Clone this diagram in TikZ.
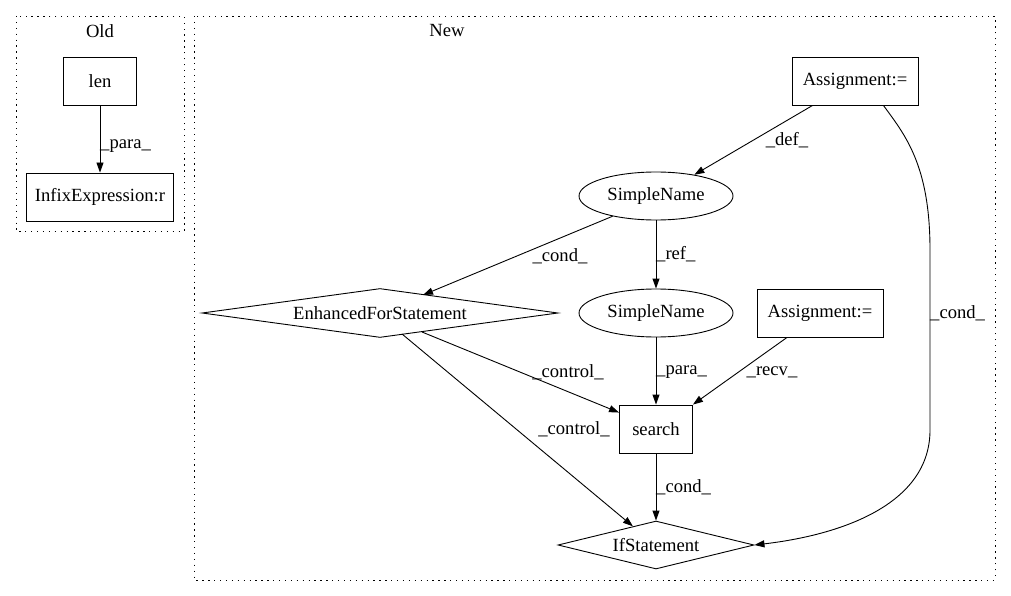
\documentclass[tikz,border=0pt]{standalone}
\usepackage{fontspec}
\setmainfont{Liberation Serif}
\usetikzlibrary{arrows.meta,shapes.geometric}
\begin{document}
\begin{tikzpicture}[x=1pt,y=-1pt,
  every node/.style={font=\fontsize{18.6}{22}\selectfont},
  cluster/.style={draw,line width=0.9pt,dash pattern=on 1.3pt off 4.6pt},
  rbox/.style={draw,line width=0.9pt,rectangle,minimum height=48pt,inner sep=0pt},
  oval/.style={draw,line width=0.9pt,ellipse,minimum width=154pt,minimum height=48pt,inner sep=0pt},
  dia/.style={draw,line width=0.9pt,diamond,inner xsep=-40pt,inner ysep=-6pt},
  edge/.style={draw,line width=0.9pt,-{Triangle[length=10pt,width=7pt]}},
  elabel/.style={inner sep=0pt}]
\useasboundingbox (0,0) rectangle (1011,596);
% clusters
\draw[cluster] (16,16) rectangle (184,231);
\node (oldlabel) at (100,31) {Old};
\draw[cluster] (194,16) rectangle (995,580);
\node (newlabel) at (447,31) {New};
% Old nodes
\node[rbox,minimum width=73pt] (len) at (100,81) {len};
\node[rbox,minimum width=147pt] (infix) at (100,197) {InfixExpression:r};
\draw[edge] (len) -- (infix);
\node[elabel,anchor=west] (lpara1) at (100,146) {\_para\_};
% New nodes
\node[rbox,minimum width=126pt] (asg1) at (855,81) {Assignment:=};
\node[oval] (sn1) at (656,196) {SimpleName};
\node[oval] (sn2) at (656,313) {SimpleName};
\node[dia,minimum width=356pt,minimum height=49pt,aspect=7.27] (efs) at (380,313) {EnhancedForStatement};
\node[rbox,minimum width=126pt] (asg2) at (820,313) {Assignment:=};
\node[rbox,minimum width=73pt] (search) at (656,429) {search};
\node[dia,minimum width=196pt,minimum height=48pt,aspect=4.08] (ifs) at (656,545) {IfStatement};
% edges
\draw[edge] ([xshift=21pt]asg1.south west) -- (sn1.29);
\draw[edge] (sn1.205) -- ([xshift=43pt,yshift=18pt]efs.center);
\draw[edge] (sn1) -- (sn2);
\draw[edge] (sn2) -- (search);
\draw[edge] ([xshift=-33pt]asg2.south) -- (search.north east);
\draw[edge] ([xshift=42pt,yshift=-19pt]efs.center) -- ([yshift=-8pt]search.north west);
\draw[edge] ([xshift=22pt,yshift=-21pt]efs.center) -- (ifs.141);
\draw[edge] (search) -- (ifs);
\draw[edge] ([xshift=-35pt]asg1.south east) .. controls (905,135) and (930,165) .. (930,250) -- (930,430) .. controls (930,505) and (840,535) .. (ifs.east);
% labels
\node[elabel] (ldef) at (787,140) {\_def\_};
\node[elabel] (lcond1) at (560,256) {\_cond\_};
\node[elabel,anchor=west] (lref) at (656,254) {\_ref\_};
\node[elabel,anchor=west] (lpara2) at (656,372) {\_para\_};
\node[elabel] (lrecv) at (772,372) {\_recv\_};
\node[elabel] (lctrl1) at (568,372) {\_control\_};
\node[elabel] (lctrl2) at (574,429) {\_control\_};
\node[elabel,anchor=west] (lcond2) at (656,487) {\_cond\_};
\node[elabel,anchor=west] (lcond3) at (930,313) {\_cond\_};
\end{tikzpicture}
\end{document}
